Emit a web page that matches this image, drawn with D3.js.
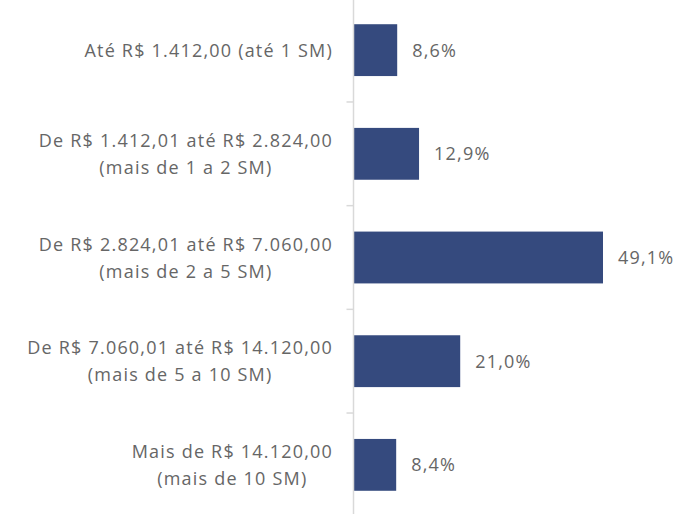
<!DOCTYPE html>
<html>
<head>
<meta charset="utf-8">
<script src="https://cdn.jsdelivr.net/npm/d3@7"></script>
<style>
  html, body { margin: 0; padding: 0; background: #ffffff; }
  svg text { font-family: "Open Sans", "Noto Sans", sans-serif; }
</style>
</head>
<body>
<svg id="chart" width="697" height="514"></svg>
<script>
// Faixas de renda (cada rótulo pode ter duas linhas)
const categories = [
  ["Até R$ 1.412,00 (até 1 SM)"],
  ["De R$ 1.412,01 até R$ 2.824,00", "(mais de 1 a 2 SM)"],
  ["De R$ 2.824,01 até R$ 7.060,00", "(mais de 2 a 5 SM)"],
  ["De R$ 7.060,01 até R$ 14.120,00", "(mais de 5 a 10 SM)"],
  ["Mais de R$ 14.120,00", "(mais de 10 SM)"]
];
const values = [8.6, 12.9, 49.1, 21.0, 8.4];

const svg = d3.select("#chart");
const axisX = 353.5;
const labelRight = 333;
const textColor = "#666666";
const fontSize = 18;
const spacing = 1.2;

const y = d3.scaleBand()
  .domain(d3.range(categories.length))
  .range([-1.7, 516.7])
  .paddingInner(0.5)
  .paddingOuter(0.25);

const x = d3.scaleLinear()
  .domain([0, 49.1])
  .range([axisX, 603]);

const fmt = v => d3.format(".1f")(v).replace(".", ",") + "%";

// Barras
svg.append("g").selectAll("rect")
  .data(values)
  .join("rect")
  .attr("x", x(0))
  .attr("y", (d, i) => y(i))
  .attr("width", d => x(d) - x(0))
  .attr("height", y.bandwidth())
  .attr("fill", "#354a7e");

// Eixo vertical com marcas entre as categorias
const gap = y.step() - y.bandwidth();
const axis = svg.append("g");
axis.append("line")
  .attr("x1", axisX).attr("x2", axisX)
  .attr("y1", 0).attr("y2", 514)
  .attr("stroke", "#d9d9d9").attr("stroke-width", 1.5);
axis.selectAll("line.tick")
  .data(d3.range(1, categories.length))
  .join("line")
  .attr("class", "tick")
  .attr("x1", axisX - 7).attr("x2", axisX)
  .attr("y1", i => y(i) - gap / 2)
  .attr("y2", i => y(i) - gap / 2)
  .attr("stroke", "#d9d9d9").attr("stroke-width", 1.5);

// Rótulos das categorias: bloco alinhado à direita, linhas centradas entre si
const lineH = 27;
svg.append("g").selectAll("text")
  .data(categories)
  .join("text")
  .attr("text-anchor", "middle")
  .attr("fill", textColor)
  .attr("font-size", fontSize)
  .attr("letter-spacing", spacing)
  .attr("y", (d, i) => y(i) + y.bandwidth() / 2)
  .each(function (lines) {
    const t = d3.select(this);
    const spans = lines.map((ln, k) =>
      t.append("tspan")
        .attr("dy", k === 0 ? ((-(lines.length - 1) / 2) * lineH + 6.5) : lineH)
        .text(ln));
    const maxW = d3.max(spans, s => s.node().getComputedTextLength());
    spans.forEach(s => s.attr("x", labelRight - maxW / 2));
  });

// Rótulos de valor
svg.append("g").selectAll("text")
  .data(values)
  .join("text")
  .attr("x", d => x(d) + 15)
  .attr("y", (d, i) => y(i) + y.bandwidth() / 2 + 6.5)
  .attr("fill", textColor)
  .attr("font-size", fontSize)
  .attr("letter-spacing", spacing)
  .text(fmt);
</script>
</body>
</html>
